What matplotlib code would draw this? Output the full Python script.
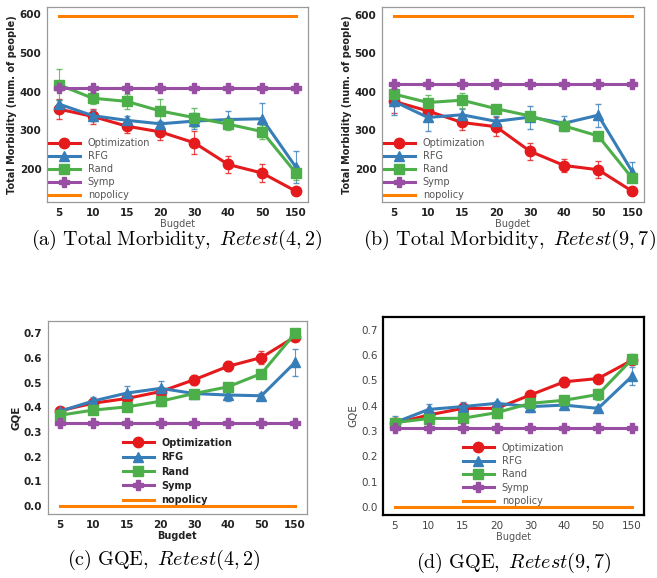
import numpy as np
import matplotlib
matplotlib.use('Agg')
import matplotlib.pyplot as plt

plt.rcParams['mathtext.fontset'] = 'cm'

budgets = ['5', '10', '15', '20', '30', '40', '50', '150']

# (a) Total Morbidity, Retest(4,2)
a_opt = [355, 336, 311, 296, 268, 212, 190, 143]
a_opt_err = [25, 20, 17, 22, 30, 23, 22, 5]
a_rfg = [368, 338, 326, 317, 324, 328, 330, 205]
a_rfg_err = [10, 15, 12, 8, 20, 22, 40, 42]
a_rand = [418, 383, 375, 350, 333, 316, 297, 190]
a_rand_err = [40, 15, 20, 30, 25, 15, 18, 18]
a_symp = [410] * 8
a_nopolicy = [595] * 8

# (b) Total Morbidity, Retest(9,7)
b_opt = [375, 350, 320, 309, 245, 208, 197, 141]
b_opt_err = [30, 25, 20, 25, 22, 18, 22, 5]
b_rfg = [375, 333, 340, 323, 334, 318, 339, 192]
b_rfg_err = [35, 35, 15, 15, 30, 20, 30, 25]
b_rand = [394, 372, 378, 356, 337, 311, 285, 175]
b_rand_err = [10, 20, 20, 10, 10, 8, 8, 10]
b_symp = [420] * 8
b_nopolicy = [597] * 8

# (c) GQE, Retest(4,2)
c_opt = [0.386, 0.417, 0.436, 0.464, 0.512, 0.566, 0.602, 0.686]
c_opt_err = [0.01, 0.01, 0.01, 0.015, 0.02, 0.02, 0.025, 0.01]
c_rfg = [0.384, 0.426, 0.458, 0.477, 0.456, 0.450, 0.447, 0.582]
c_rfg_err = [0.01, 0.015, 0.03, 0.03, 0.01, 0.025, 0.01, 0.055]
c_rand = [0.368, 0.389, 0.402, 0.425, 0.456, 0.483, 0.537, 0.700]
c_rand_err = [0.01, 0.01, 0.01, 0.02, 0.01, 0.01, 0.01, 0.01]
c_symp = [0.338] * 8
c_nopolicy = [0.0] * 8

# (d) GQE, Retest(9,7)
d_opt = [0.330, 0.363, 0.389, 0.389, 0.442, 0.494, 0.507, 0.579]
d_opt_err = [0.02, 0.01, 0.01, 0.01, 0.01, 0.02, 0.01, 0.01]
d_rfg = [0.333, 0.385, 0.396, 0.409, 0.396, 0.402, 0.389, 0.516]
d_rfg_err = [0.025, 0.02, 0.02, 0.01, 0.02, 0.01, 0.01, 0.035]
d_rand = [0.333, 0.349, 0.350, 0.372, 0.409, 0.421, 0.444, 0.583]
d_rand_err = [0.02, 0.01, 0.01, 0.02, 0.01, 0.01, 0.02, 0.02]
d_symp = [0.311] * 8
d_nopolicy = [0.0] * 8

colors = {'Optimization': '#e41a1c', 'RFG': '#377eb8', 'Rand': '#4daf4a',
          'Symp': '#984ea3', 'nopolicy': '#ff7f00'}
markers = {'Optimization': 'o', 'RFG': '^', 'Rand': 's', 'Symp': 'P'}

fig = plt.figure(figsize=(6.57, 5.78), dpi=100)

panels = [
    ([0.0715, 0.6505, 0.397, 0.337], a_opt, a_opt_err, a_rfg, a_rfg_err, a_rand, a_rand_err, a_symp, a_nopolicy,
     'Total Morbidity (num. of people)', 'a'),
    ([0.5814, 0.6505, 0.399, 0.337], b_opt, b_opt_err, b_rfg, b_rfg_err, b_rand, b_rand_err, b_symp, b_nopolicy,
     'Total Morbidity (num. of people)', 'b'),
    ([0.073, 0.1107, 0.394, 0.334], c_opt, c_opt_err, c_rfg, c_rfg_err, c_rand, c_rand_err, c_symp, c_nopolicy,
     'GQE', 'c'),
    ([0.583, 0.109, 0.397, 0.3426], d_opt, d_opt_err, d_rfg, d_rfg_err, d_rand, d_rand_err, d_symp, d_nopolicy,
     'GQE', 'd'),
]

x = np.arange(len(budgets))
for rect, opt, opt_err, rfg, rfg_err, rand, rand_err, symp, nop, ylab, tag in panels:
    ax = fig.add_axes(rect)
    bold = 'normal' if tag == 'd' else 'bold'
    tick_color = '#444444' if tag == 'd' else '#222222'

    # error bars first, then lines with markers on top
    for name, vals, err in [('Optimization', opt, opt_err), ('RFG', rfg, rfg_err),
                            ('Rand', rand, rand_err)]:
        ax.errorbar(x, vals, yerr=err, fmt='none', ecolor=colors[name], elinewidth=0.8,
                    capsize=2, alpha=0.8)
    for name, vals in [('Optimization', opt), ('RFG', rfg), ('Rand', rand), ('Symp', symp)]:
        ax.plot(x, vals, color=colors[name], marker=markers[name], markersize=7.5,
                linewidth=2.2, label=name)
    ax.plot(x, nop, color=colors['nopolicy'], linewidth=2.2, label='nopolicy')

    ax.set_xticks(x)
    ax.set_xticklabels(budgets)
    ax.tick_params(length=0, labelsize=7.5, labelcolor=tick_color, pad=4)
    if tag in 'ab':
        ax.set_yticks([200, 300, 400, 500, 600])
    else:
        ticks = np.arange(0, 0.71, 0.1)
        ax.set_yticks(ticks)
        ax.set_yticklabels(['%.1f' % v for v in ticks])
        ax.set_ylim(-0.032, 0.75)
    for lab in ax.get_xticklabels() + ax.get_yticklabels():
        lab.set_fontweight(bold)

    ax.set_xlabel('Bugdet', fontsize=7, color='#555555' if tag != 'c' else '#222222',
                  fontweight='bold' if tag == 'c' else 'normal', labelpad=1)
    ax.set_ylabel(ylab, fontsize=7 if tag in 'ab' else 7.5,
                  color='#222222' if tag != 'd' else '#444444',
                  fontweight='bold' if tag in 'abc' else 'normal', labelpad=2)

    for sp in ax.spines.values():
        if tag == 'd':
            sp.set_color('black')
            sp.set_linewidth(1.6)
        else:
            sp.set_color('#999999')
            sp.set_linewidth(0.9)

    if tag in 'ab':
        leg = ax.legend(loc='lower left', frameon=False, fontsize=7, handlelength=3.2,
                        labelspacing=0.3, borderaxespad=0.0, borderpad=0.2)
        for t in leg.get_texts():
            t.set_color('#555555')
    else:
        leg = ax.legend(loc='lower center', frameon=False, handlelength=3.2,
                        labelspacing=0.45 if tag == 'c' else 0.35, borderaxespad=0.5,
                        prop={'size': 7, 'weight': 'bold' if tag == 'c' else 'normal'})
        for t in leg.get_texts():
            t.set_color('#222222' if tag == 'c' else '#555555')

captions = [
    (0.270, 1 - 240 / 578, r'$\mathrm{(a)\ Total\ Morbidity,}\ Retest(4,2)$'),
    (0.775, 1 - 240 / 578, r'$\mathrm{(b)\ Total\ Morbidity,}\ Retest(9,7)$'),
    (0.250, 1 - 560 / 578, r'$\mathrm{(c)\ GQE,}\ Retest(4,2)$'),
    (0.782, 1 - 563 / 578, r'$\mathrm{(d)\ GQE,}\ Retest(9,7)$'),
]
for cx, cy, txt in captions:
    fig.text(cx, cy, txt, ha='center', va='center', fontsize=14.5)

fig.savefig('out.png', dpi=100)
